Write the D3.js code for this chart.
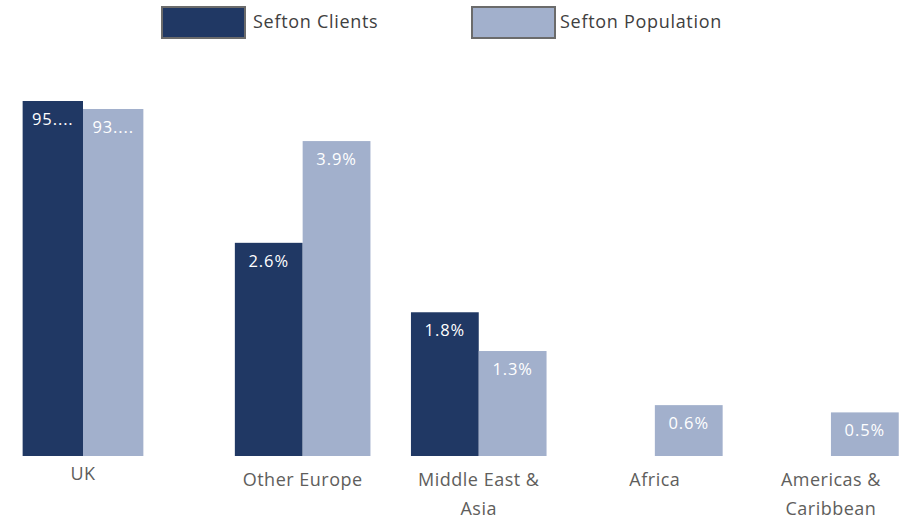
<!DOCTYPE html>
<html><head><meta charset="utf-8">
<script src="https://cdn.jsdelivr.net/npm/d3@7"></script>
<style>html,body{margin:0;padding:0;background:#fff;overflow:hidden}</style>
</head><body>
<svg id="c" width="905" height="522"></svg>
<script>
const categories = ["UK", "Other Europe", "Middle East & Asia", "Africa", "Americas & Caribbean"];
const seriesNames = ["Sefton Clients", "Sefton Population"];
const clients = [95.0, 2.64, 1.78, null, null];
const population = [93.0, 3.9, 1.3, 0.63, 0.54];
const colors = ["#203864", "#a2b0cc"];

const svg = d3.select("#c");
const font = "'Open Sans', sans-serif";
const baseY = 456;

// broken value axis: fine resolution for small shares, compressed above 4%
const y = d3.scaleLinear().domain([0, 4, 92, 96]).range([baseY, baseY - 323, baseY - 343, baseY - 359]);

// UK shown in its own panel, other regions in a second panel
const xUK = d3.scaleBand().domain([categories[0]]).range([0, 166]).paddingInner(0).paddingOuter(0.1875);
const xRest = d3.scaleBand().domain(categories.slice(1)).range([214.6, 919]).paddingInner(0.23).paddingOuter(0.115);
const panels = [
  {x: xUK, cats: categories.slice(0, 1), labelY: 480},
  {x: xRest, cats: categories.slice(1), labelY: 486}
];

const fmt = v => d3.format(".1f")(v) + "%";

panels.forEach(p => {
  const sub = d3.scaleBand().domain(seriesNames).range([0, p.x.bandwidth()]);
  const g = svg.append("g");
  p.cats.forEach(cat => {
    const i = categories.indexOf(cat);
    const vals = [clients[i], population[i]];
    vals.forEach((v, s) => {
      if (v == null) return;
      const x0 = p.x(cat) + sub(seriesNames[s]);
      g.append("rect").attr("x", x0).attr("y", y(v)).attr("width", sub.bandwidth())
        .attr("height", baseY - y(v)).attr("fill", colors[s]);
      const t = g.append("text").attr("x", x0 + sub.bandwidth() / 2).attr("y", y(v) + 24)
        .attr("text-anchor", "middle").attr("font-family", font).attr("font-size", 16.5)
        .attr("letter-spacing", 0.9).attr("fill", "#ffffff").text(fmt(v));
      const maxW = sub.bandwidth() - 14;
      if (t.node().getComputedTextLength() > maxW) {
        let s2 = fmt(v);
        while (s2.length > 1) {
          s2 = s2.slice(0, -1);
          t.text(s2 + "....");
          if (t.node().getComputedTextLength() <= maxW) break;
        }
      }
    });
    // category label with wrapping
    const cx = p.x(cat) + p.x.bandwidth() / 2;
    const lab = g.append("text").attr("text-anchor", "middle").attr("font-family", font)
      .attr("font-size", 18).attr("letter-spacing", 0.5).attr("fill", "#605e5c");
    const words = cat.split(" ");
    let line = [], lineNo = 0;
    let ts = lab.append("tspan").attr("x", cx).attr("y", p.labelY);
    words.forEach(w => {
      line.push(w);
      ts.text(line.join(" "));
      if (ts.node().getComputedTextLength() > 140 && line.length > 1) {
        line.pop();
        ts.text(line.join(" "));
        line = [w];
        lineNo++;
        ts = lab.append("tspan").attr("x", cx).attr("y", p.labelY + lineNo * 29).text(w);
      }
    });
  });
});

// legend
const legend = [{x: 161, tx: 253}, {x: 471, tx: 560}];
seriesNames.forEach((n, i) => {
  svg.append("rect").attr("x", legend[i].x + 1).attr("y", 7).attr("width", 83).attr("height", 31)
    .attr("fill", colors[i]).attr("stroke", "#6b6b6b").attr("stroke-width", 2);
  svg.append("text").attr("x", legend[i].tx).attr("y", 28).attr("font-family", font)
    .attr("font-size", 18).attr("letter-spacing", 0.7).attr("fill", "#404040").text(n);
});
</script>
</body></html>
